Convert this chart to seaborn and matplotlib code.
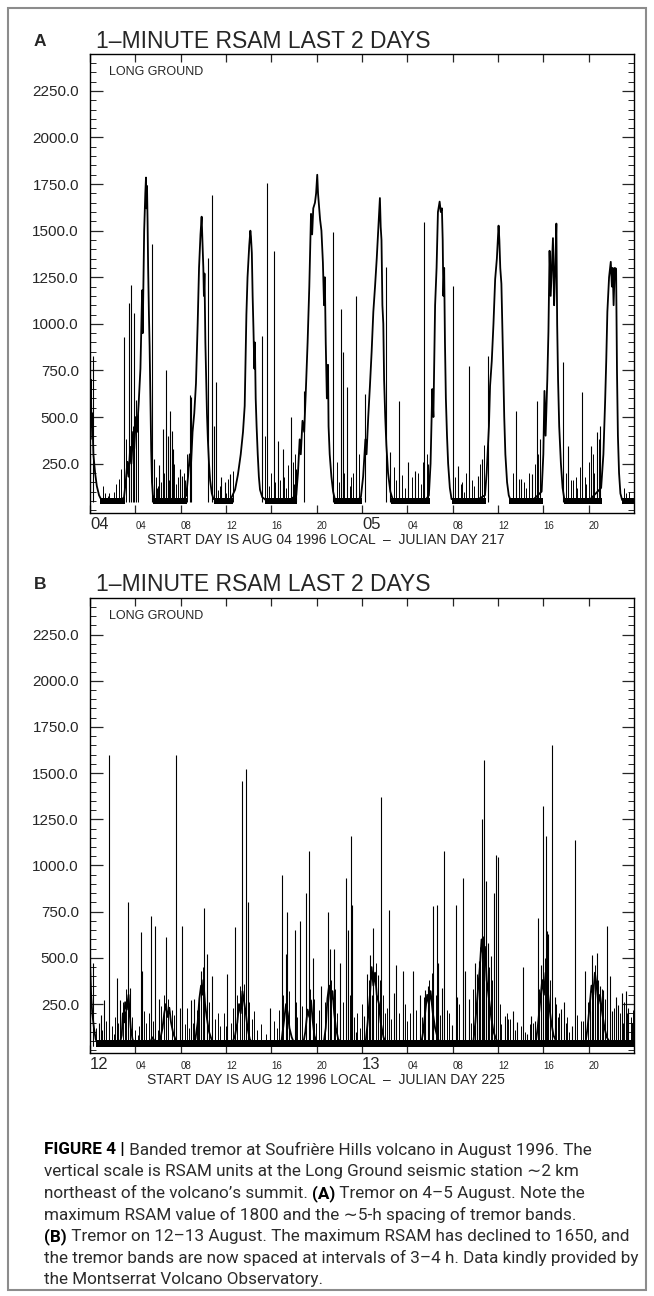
import matplotlib
matplotlib.use("Agg")
import matplotlib.pyplot as plt
import seaborn as sns
from matplotlib import font_manager
from matplotlib.patches import Rectangle
from matplotlib.ticker import FixedLocator, MultipleLocator

sns.set_style("white")

# ---- data (hours since start day, RSAM units) ----
# panel A: band envelope
hours_a = [0.00, 0.04, 0.08, 0.12, 0.20, 0.30, 0.45, 0.60, 0.80, 1.00,
           1.40, 1.90, 2.40, 2.80,
           3.00, 3.15, 3.30, 3.40, 3.55, 3.65, 3.80, 3.90, 4.05, 4.15, 4.30, 4.45, 4.60, 4.65, 4.78, 4.88,
           4.94, 4.98, 5.03, 5.08, 5.13, 5.20, 5.26, 5.33, 5.40, 5.47, 5.55, 5.70,
           6.50, 7.50, 8.30,
           8.50, 8.65, 8.80, 8.90, 9.05, 9.20, 9.35, 9.50, 9.62, 9.75, 9.85, 9.92, 10.00, 10.05, 10.10,
           10.18, 10.25, 10.32, 10.40, 10.50, 10.60, 10.75, 10.90,
           11.80, 12.40,
           12.50, 12.80, 13.05, 13.30, 13.50, 13.65, 13.80, 13.90, 14.05, 14.15, 14.20, 14.28, 14.35, 14.42,
           14.50, 14.55, 14.62, 14.70, 14.80, 14.90, 15.00, 15.20, 15.50,
           16.50, 17.50,
           18.20, 18.35, 18.50, 18.60, 18.75, 18.90, 19.05, 19.20, 19.35, 19.50, 19.60, 19.70, 19.85, 19.95,
           20.05, 20.12, 20.20, 20.30, 20.42, 20.55, 20.65, 20.72, 20.80, 20.90, 21.00, 21.05, 21.15, 21.30,
           21.45, 21.60,
           22.50, 23.50,
           23.90, 24.10, 24.30, 24.40, 24.55, 24.70, 24.85, 25.00, 25.15, 25.30, 25.45, 25.58, 25.65, 25.72,
           25.80, 25.88, 25.95, 26.05, 26.15, 26.30, 26.50, 26.70,
           27.50, 28.50, 29.50,
           29.90, 30.05, 30.20, 30.30, 30.45, 30.58, 30.70, 30.85, 30.95, 31.05, 31.12, 31.18, 31.25, 31.32,
           31.40, 31.50, 31.60, 31.75, 31.90,
           33.00, 34.00,
           34.85, 35.00, 35.20, 35.30, 35.45, 35.60, 35.75, 35.90, 36.05, 36.12, 36.20, 36.30, 36.38, 36.45,
           36.55, 36.65, 36.80, 36.95, 37.10,
           38.00, 39.00,
           39.85, 40.00, 40.10, 40.20, 40.35, 40.45, 40.55, 40.65, 40.75, 40.85, 40.95, 41.05, 41.15, 41.22,
           41.30, 41.40, 41.55, 41.70, 41.85,
           43.00, 44.00,
           45.10, 45.30, 45.45, 45.55, 45.65, 45.80, 45.95, 46.05, 46.12, 46.20, 46.30, 46.42, 46.50, 46.58,
           46.68, 46.80, 46.95,
           47.50, 48.00]
rsam_a = [620, 380, 700, 450, 520, 300, 200, 130, 80, 55,
          45, 50, 45, 55,
          70, 150, 260, 180, 340, 250, 420, 330, 500, 420, 580, 760, 1180, 950, 1500, 1700,
          1785, 1620, 1740, 1550, 1300, 1050, 880, 600, 320, 150, 80, 55,
          45, 50, 60,
          80, 180, 300, 230, 420, 520, 680, 1000, 1300, 1480, 1575, 1450, 1300, 1150, 1270,
          900, 700, 520, 380, 250, 160, 90, 60,
          45, 55,
          70, 110, 190, 300, 420, 560, 1050, 1250, 1420, 1500, 1470, 1380, 1150, 980,
          760, 900, 600, 450, 300, 180, 110, 70, 55,
          45, 50,
          80, 200, 380, 300, 480, 420, 650, 900, 1200, 1590, 1480, 1620, 1650, 1700,
          1800, 1700, 1640, 1560, 1500, 1330, 1100, 1250, 900, 600, 780, 450, 300, 180,
          100, 60,
          45, 50,
          70, 180, 380, 300, 500, 667, 850, 1065, 1200, 1350, 1520, 1675, 1520, 1450,
          1100, 1000, 700, 500, 350, 200, 100, 60,
          45, 50, 45,
          80, 250, 650, 500, 1100, 1300, 1600, 1656, 1600, 1620, 1450, 1150, 1300, 900,
          600, 400, 250, 120, 60,
          45, 50,
          80, 200, 450, 667, 800, 1000, 1240, 1350, 1527, 1450, 1300, 1215, 1000, 800,
          500, 300, 150, 80, 55,
          45, 50,
          100, 300, 640, 400, 700, 957, 1392, 1150, 1300, 1460, 1100, 1300, 1538, 1000,
          700, 450, 250, 120, 60,
          45, 50,
          120, 300, 580, 800, 1065, 1250, 1333, 1200, 1300, 1100, 1300, 1296, 740, 400,
          200, 90, 55,
          45, 50]

# panel A: isolated spikes
spike_h_a = [0.30, 3.00, 3.45, 3.65, 3.85, 4.05, 5.45, 5.65, 6.10, 6.40, 6.70, 6.85, 7.10, 7.20, 7.30,
             7.90, 8.10, 8.80, 8.95, 10.45, 10.75, 10.95, 11.10, 11.60, 11.90, 12.35, 15.20, 15.60,
             16.20, 16.55, 17.00, 17.70, 18.15, 18.90, 21.40, 22.15, 22.30, 22.65, 23.50, 24.30, 26.10,
             26.50, 27.30, 28.10, 28.70, 29.50, 29.85, 32.00, 32.50, 33.40, 34.20, 34.60, 35.10, 37.60,
             38.00, 39.00, 39.40, 39.70, 41.70, 42.20, 43.40, 44.20, 44.70, 45.00]
spike_v_a = [830, 930, 1110, 1210, 1060, 590, 1430, 275, 240, 435, 750, 400, 530, 425, 330,
             220, 185, 620, 610, 1355, 1690, 450, 690, 180, 150, 195, 935, 1755,
             1390, 370, 330, 500, 220, 640, 1495, 1080, 850, 660, 1150, 624, 1306,
             312, 587, 258, 210, 1548, 247, 1205, 237, 775, 183, 274, 830, 532,
             167, 194, 587, 382, 796, 344, 634, 344, 419, 452]
small_h_a = [1.30, 1.55, 2.10, 2.60, 5.90, 6.25, 7.60, 8.40, 11.30, 12.00, 15.80, 16.80, 17.30, 18.00,
             22.00, 22.90, 23.20, 27.00, 27.80, 28.40, 29.20, 32.80, 33.00, 33.90, 37.30, 38.50, 38.70,
             42.60, 43.00, 43.80, 44.50, 47.30,
             1.15, 1.70, 2.25, 2.75, 3.20, 3.75, 4.20, 5.80, 6.00, 6.55,
             7.00, 7.45, 7.75, 8.25, 8.55, 11.45, 12.20, 12.65, 15.40, 16.00,
             16.35, 17.15, 17.50, 17.90, 18.05, 21.75, 22.45, 23.05, 23.75, 26.80,
             27.55, 28.90, 29.35, 29.70, 32.25, 32.70, 33.20, 33.70, 34.45, 34.75,
             37.35, 37.85, 38.25, 39.25, 39.55, 42.00, 42.40, 42.85, 43.20, 43.65,
             44.00, 44.35, 44.90, 47.10, 47.60]
small_v_a = [90, 75, 100, 170, 120, 150, 140, 160, 110, 90, 130, 160, 120, 140,
             150, 130, 200, 160, 120, 180, 140, 150, 100, 130, 150, 120, 200,
             160, 120, 140, 200, 90,
             130, 90, 140, 220, 380, 450, 520, 180, 130, 200,
             160, 250, 180, 200, 300, 130, 170, 210, 400, 200,
             150, 180, 240, 260, 300, 260, 200, 180, 300, 230,
             190, 200, 260, 300, 180, 140, 200, 160, 250, 350,
             200, 170, 150, 250, 300, 200, 160, 180, 230, 180,
             260, 300, 380, 120, 100]
floor_start_a = [0.9, 5.6, 10.9, 15.4, 21.5, 26.6, 31.9, 37.0, 41.8, 46.9]
floor_end_a = [3.1, 8.6, 12.6, 18.3, 24.0, 30.0, 34.9, 40.0, 45.2, 48.0]
floor_a = (32, 68)

# panel B: humps envelope
hours_b = [0.00, 0.10, 0.20, 0.35, 0.50, 0.70, 1.50, 2.60, 2.80, 2.90, 3.00, 3.10, 3.25, 3.40, 3.50,
           3.60, 3.75, 3.95, 5.00, 5.30, 5.50, 5.80, 6.20, 6.40, 6.55, 6.70, 6.85, 7.00, 7.15, 7.35,
           7.60, 7.90, 9.00, 9.30, 9.50, 9.65, 9.80, 9.90, 10.00, 10.15, 10.30, 10.50, 10.80, 11.20,
           12.50, 12.80, 13.00, 13.15, 13.30, 13.45, 13.60, 13.75, 13.90, 14.10, 14.40, 16.50, 16.90,
           17.10, 17.30, 17.45, 17.60, 17.80, 18.00, 18.80, 19.00, 19.20, 19.35, 19.50, 19.65, 19.80,
           20.00, 20.60, 20.80, 20.95, 21.10, 21.25, 21.40, 21.55, 21.70, 21.90, 22.20, 24.30, 24.50,
           24.70, 24.85, 25.00, 25.15, 25.30, 25.50, 25.65, 25.90, 26.20, 29.20, 29.40, 29.60, 29.75,
           29.90, 30.05, 30.25, 30.45, 30.70, 31.00, 33.80, 34.00, 34.20, 34.40, 34.55, 34.70, 34.85,
           35.00, 35.20, 35.40, 35.60, 35.90, 36.30, 39.30, 39.50, 39.70, 39.90, 40.05, 40.20, 40.35,
           40.50, 40.70, 40.90, 41.20, 43.70, 43.90, 44.10, 44.25, 44.40, 44.55, 44.70, 44.85, 45.00,
           45.20, 45.40, 45.60, 45.90, 46.50, 47.00, 47.50, 48.00]
rsam_b = [480, 300, 200, 120, 60, 30, 25, 30, 80, 200, 150, 260, 220, 300, 200,
          120, 60, 30, 25, 40, 70, 40, 60, 120, 200, 250, 180, 230, 150, 90,
          50, 30, 30, 60, 150, 280, 350, 300, 380, 250, 180, 100, 45, 30,
          30, 80, 150, 250, 200, 320, 260, 200, 120, 60, 30, 25, 50,
          150, 250, 200, 120, 70, 40, 30, 100, 220, 180, 270, 160, 80,
          40, 30, 120, 280, 350, 260, 320, 200, 120, 60, 35, 30, 150,
          300, 450, 350, 420, 300, 250, 150, 70, 35, 30, 100, 220, 300,
          250, 320, 200, 120, 60, 30, 30, 150, 300, 450, 600, 500, 560,
          380, 280, 180, 100, 50, 30, 30, 120, 250, 380, 300, 420, 350,
          250, 150, 80, 40, 30, 120, 250, 350, 300, 420, 350, 250, 300,
          200, 120, 70, 40, 30, 35, 30, 30]

spike_h_b = [0.27, 0.80, 0.97, 1.24, 1.68, 2.39, 2.65, 3.10, 3.36, 3.54,
             4.50, 4.60, 5.40, 5.75, 6.10, 6.70, 7.60, 7.90, 8.10, 8.90,
             9.20, 9.80, 10.10, 10.30, 10.80, 12.10, 12.80, 13.45, 13.80, 13.90,
             15.90, 16.90, 17.25, 17.35, 18.05, 18.50, 19.10, 19.30, 19.65, 20.40,
             21.00, 21.15, 21.50, 22.10, 22.55, 22.80, 23.00, 23.10, 23.50, 24.20,
             24.40, 24.70, 24.90, 25.00, 25.40, 25.70, 26.40, 26.80, 27.00, 27.60,
             28.50, 29.10, 29.60, 29.80, 30.30, 30.60, 30.70, 31.10, 31.20, 31.95,
             32.30, 32.40, 32.90, 33.10, 33.40, 34.00, 34.15, 34.30, 34.60, 34.80,
             34.95, 35.10, 35.40, 35.65, 35.85, 36.00, 36.60, 37.30, 37.70, 38.20,
             38.60, 38.90, 39.30, 39.55, 39.80, 40.00, 40.20, 40.35, 40.45, 40.80,
             41.00, 41.60, 41.80, 42.50, 42.80, 43.70, 44.10, 44.30, 44.40, 44.70,
             45.00, 45.30, 45.60, 45.85, 46.10, 46.40, 46.60, 46.95, 47.25, 47.50]
spike_v_b = [470, 146, 190, 270, 1600, 390, 270, 210, 800, 335,
             640, 430, 725, 670, 280, 615, 1600, 230, 675, 270,
             275, 430, 770, 520, 400, 415, 665, 1460, 1520, 805,
             230, 950, 520, 750, 650, 700, 850, 1080, 500, 350,
             750, 550, 550, 470, 930, 650, 1160, 785, 100, 185,
             415, 515, 300, 660, 405, 1370, 760, 310, 460, 430,
             430, 300, 325, 345, 780, 785, 470, 335, 1080, 135,
             785, 290, 930, 430, 280, 470, 415, 485, 1250, 1570,
             915, 580, 510, 850, 1055, 1045, 185, 215, 155, 450,
             90, 185, 160, 715, 460, 1320, 1160, 645, 630, 1650,
             290, 225, 260, 130, 1140, 430, 215, 515, 345, 525,
             345, 325, 670, 400, 210, 290, 245, 310, 320, 230]
small_h_b = [0.50, 2.10, 4.00, 4.20, 4.90, 5.20, 6.00, 8.40, 8.70, 9.50,
             11.00, 11.50, 11.80, 12.40, 14.30, 14.70, 15.10, 15.50, 16.20, 16.50,
             18.30, 19.90, 21.80, 23.30, 23.80, 26.00, 26.60, 27.30, 28.00, 28.80,
             29.30, 30.90, 31.50, 33.60, 36.30, 36.90, 37.50, 38.00, 38.40, 39.10,
             41.30, 42.00, 42.30, 43.00, 43.30, 46.80, 47.00, 47.70, 47.90,
             0.30, 1.10, 1.40, 1.90, 2.20, 2.50, 2.95, 3.20, 3.70, 4.30,
             4.75, 5.60, 6.30, 6.50, 6.90, 7.20, 7.40, 8.60, 9.10, 9.40,
             9.60, 10.00, 10.50, 11.30, 12.00, 12.60, 13.00, 13.20, 13.60, 14.00,
             14.50, 16.70, 17.05, 17.60, 18.20, 18.70, 19.40, 19.80, 20.20, 20.70,
             21.30, 21.65, 22.30, 22.95, 23.60, 24.00, 24.60, 25.20, 25.55, 25.85,
             26.20, 27.80, 28.20, 29.50, 29.95, 30.15, 30.50, 31.70, 32.60, 33.80,
             34.45, 34.70, 35.25, 35.50, 36.20, 36.80, 37.10, 38.80, 39.65, 39.95,
             40.15, 40.60, 41.10, 41.40, 42.10, 43.50, 43.95, 44.15, 44.55, 44.85,
             45.15, 45.45, 46.25, 46.75, 47.15, 47.40, 47.80]
small_v_b = [120, 90, 110, 80, 150, 200, 110, 140, 120, 180,
             170, 130, 200, 150, 170, 110, 140, 90, 160, 120,
             180, 150, 200, 180, 120, 200, 170, 200, 160, 220,
             180, 190, 220, 150, 140, 170, 110, 130, 100, 150,
             180, 150, 100, 190, 160, 200, 150, 180, 220,
             200, 110, 160, 130, 180, 150, 260, 330, 180, 130,
             210, 160, 240, 300, 280, 220, 190, 230, 150, 220,
             300, 450, 260, 200, 130, 230, 300, 350, 360, 260,
             210, 220, 300, 320, 260, 240, 330, 280, 220, 260,
             380, 330, 260, 300, 200, 250, 380, 470, 380, 300,
             230, 250, 200, 290, 380, 420, 300, 200, 250, 330,
             560, 620, 450, 380, 250, 200, 170, 140, 330, 450,
             500, 380, 250, 200, 180, 160, 260, 320, 460, 380,
             330, 280, 230, 180, 260, 200, 150]
floor_start_b = [0.5]
floor_end_b = [48.0]
floor_b = (15, 55)

ytick_values = [250, 500, 750, 1000, 1250, 1500, 1750, 2000, 2250]
xtick_hours = [0, 4, 8, 12, 16, 20, 24, 28, 32, 36, 40, 44]
hour_labels = ["04", "08", "12", "16", "20"]
day_labels_a = ["04", "05"]
day_labels_b = ["12", "13"]
start_text_a = "START DAY IS AUG 04 1996 LOCAL  \u2013  JULIAN DAY 217"
start_text_b = "START DAY IS AUG 12 1996 LOCAL  \u2013  JULIAN DAY 225"
title_text = "1\u2013MINUTE RSAM LAST 2 DAYS"
station = "LONG GROUND"

caption_lines = [
    [("FIGURE 4 |", True), (" Banded tremor at Soufri\u00e8re Hills volcano in August 1996. The", False)],
    [("vertical scale is RSAM units at the Long Ground seismic station \u223c2 km", False)],
    [("northeast of the volcano\u2019s summit. ", False), ("(A)", True),
     (" Tremor on 4\u20135 August. Note the", False)],
    [("maximum RSAM value of 1800 and the \u223c5-h spacing of tremor bands.", False)],
    [("(B)", True), (" Tremor on 12\u201313 August. The maximum RSAM has declined to 1650, and", False)],
    [("the tremor bands are now spaced at intervals of 3\u20134 h. Data kindly provided by", False)],
    [("the Montserrat Volcano Observatory.", False)],
]

# ---- fonts ----
installed = {f.name for f in font_manager.fontManager.ttflist}


def pick(*names):
    return [n for n in names if n in installed] + ["DejaVu Sans"]


plot_font = pick("Liberation Sans Narrow", "Liberation Sans")
tick_font = pick("Liberation Sans")
cap_font = pick("Roboto", "Lato", "Open Sans")

W, H = 654, 1296
fig = plt.figure(figsize=(W / 100, H / 100), dpi=100)


def fx(x):
    return x / W


def fy(y):
    return 1 - y / H


def draw_panel(top, bottom, letter, hours, rsam, sh, sv, mh, mv, fs, fe, floor, base, days, start_text):
    ax = fig.add_axes([fx(90), fy(bottom), fx(634) - fx(90), fy(top) - fy(bottom)])
    for s, e in zip(fs, fe):
        ax.fill_between([s, e], floor[0], floor[1], color="black", lw=0)
    ax.vlines(sh, base, sv, color="black", lw=0.8)
    ax.vlines(mh, base, mv, color="black", lw=0.7)
    sns.lineplot(x=hours, y=rsam, ax=ax, color="black", lw=1.3, estimator=None, sort=False)
    ax.set_xlim(0, 48)
    ax.set_ylim(-15, 2448)
    ax.set_xlabel("")
    ax.set_ylabel("")
    for sp in ax.spines.values():
        sp.set_color("black")
        sp.set_linewidth(1.0)

    ax.yaxis.set_major_locator(FixedLocator(ytick_values))
    ax.set_yticklabels([f"{v:.1f}" for v in ytick_values])
    ax.yaxis.set_minor_locator(MultipleLocator(50))
    ax.tick_params(axis="y", which="both", direction="in", left=True, right=True, labelsize=11, pad=8)
    ax.tick_params(axis="y", which="major", length=9, width=0.9)
    ax.tick_params(axis="y", which="minor", length=4.5, width=0.7)
    for t in ax.get_yticklabels():
        t.set_family(tick_font)

    labels = []
    for h in xtick_hours:
        labels.append(days[h // 24] if h % 24 == 0 else hour_labels[(h % 24) // 4 - 1])
    ax.set_xticks(xtick_hours)
    ax.set_xticklabels(labels)
    ax.tick_params(axis="x", which="major", direction="in", top=True, bottom=True,
                   length=6, width=0.9, pad=11.5)
    for h, t in zip(xtick_hours, ax.get_xticklabels()):
        t.set_family(plot_font)
        t.set_va("baseline")
        t.set_ha("left")
        t.set_fontsize(12 if h % 24 == 0 else 7)

    ax.annotate(start_text, xy=(0.434, 0), xycoords="axes fraction", xytext=(0, -19.5),
                textcoords="offset points", ha="center", va="center", fontsize=10,
                family=plot_font)
    fig.text(fx(40), fy(top - 13), letter, ha="center", va="center", fontsize=12.5,
             fontweight="bold", family=tick_font)
    fig.text(fx(96), fy(top - 13), title_text, ha="left", va="center", fontsize=16.5,
             family=plot_font)
    fig.text(fx(109), fy(top + 18), station, ha="left", va="center", fontsize=9,
             family=plot_font)
    return ax


draw_panel(54, 513, "A", hours_a, rsam_a, spike_h_a, spike_v_a, small_h_a, small_v_a,
           floor_start_a, floor_end_a, floor_a, 45, day_labels_a, start_text_a)
draw_panel(598, 1053, "B", hours_b, rsam_b, spike_h_b, spike_v_b, small_h_b, small_v_b,
           floor_start_b, floor_end_b, floor_b, 25, day_labels_b, start_text_b)

# ---- caption with bold runs ----
renderer = fig.canvas.get_renderer()
cap_size = 12
cap_color = "#2b2b2b"


def line_width(parts, size):
    total = 0
    tmp = []
    for txt, bold in parts:
        t = fig.text(0, 0, txt, fontsize=size, family=cap_font,
                     fontweight="bold" if bold else "normal")
        total += t.get_window_extent(renderer).width
        tmp.append(t)
    for t in tmp:
        t.remove()
    return total


widest = max(line_width(p, cap_size) for p in caption_lines)
cap_size = cap_size * 594 / widest

for i, parts in enumerate(caption_lines):
    x = 44
    y = 1150 + i * 21.6
    for txt, bold in parts:
        t = fig.text(fx(x), fy(y), txt, fontsize=cap_size, family=cap_font,
                     color="black" if bold else cap_color,
                     fontweight="bold" if bold else "normal", ha="left", va="center")
        x += t.get_window_extent(renderer).width

fig.add_artist(Rectangle((fx(8), fy(1290)), fx(646) - fx(8), fy(8) - fy(1290),
                         transform=fig.transFigure, fill=False, edgecolor="#8c8c8c", lw=1.5))

fig.savefig("out.png", dpi=100)
